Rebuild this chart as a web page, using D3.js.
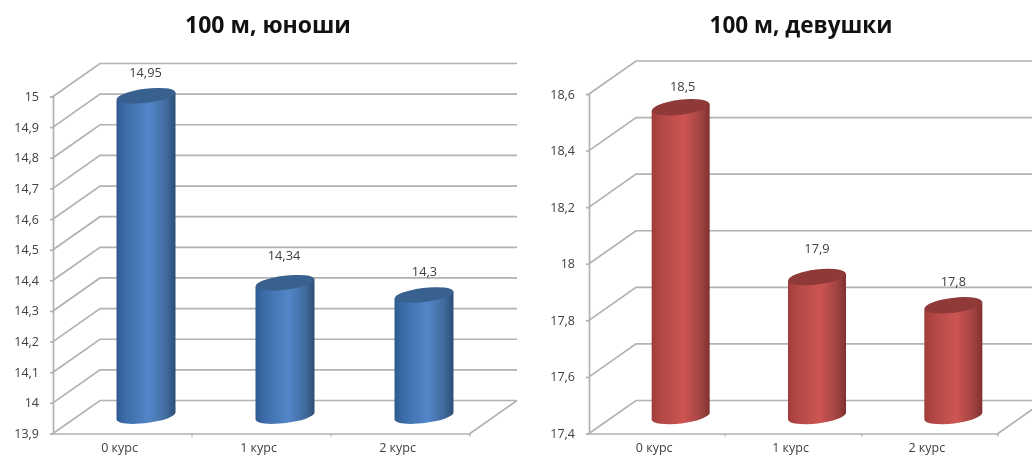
<!DOCTYPE html>
<html><head><meta charset="utf-8">
<script src="https://cdn.jsdelivr.net/npm/d3@7"></script>
<style>
html,body{margin:0;padding:0;background:#fff;overflow:hidden}
svg{display:block;filter:blur(0.4px)}
text{font-family:"Open Sans","Noto Sans",sans-serif;fill:#404040}
</style></head><body>
<svg id="c" width="1032" height="457"></svg>
<script>
const categories = ["0 курс","1 курс","2 курс"];
const boysValues = [14.95,14.34,14.3];
const girlsValues = [18.5,17.9,17.8];
const boysTicks = [13.9,14,14.1,14.2,14.3,14.4,14.5,14.6,14.7,14.8,14.9,15];
const girlsTicks = [17.4,17.6,17.8,18,18.2,18.4,18.6];
const boysTitle = "100 м, юноши";
const girlsTitle = "100 м, девушки";

const svg = d3.select("#c");
const fmt = v => String(v).replace(".", ",");
const defs = svg.append("defs");
function grad(id, stops){
  const g = defs.append("linearGradient").attr("id",id).attr("x1",0).attr("x2",1).attr("y1",0).attr("y2",0);
  stops.forEach(s=>g.append("stop").attr("offset",s[0]).attr("stop-color",s[1]));
}
grad("gb",[[0,"#2f5a90"],[0.15,"#3c6ca8"],[0.55,"#5386c9"],[0.85,"#3f6a9c"],[1,"#2d4d75"]]);
grad("gr",[[0,"#a03c3a"],[0.15,"#b24745"],[0.55,"#cd5552"],[0.85,"#a04341"],[1,"#80312f"]]);

function chart(o){
  const g = svg.append("g");
  const y = d3.scaleLinear().domain(o.domain).range([433.5,o.yTop]);
  const x = d3.scaleBand().domain(categories).range([o.x0,o.x1]);
  const dx=47, dy=33, grey="#b2b2b2";
  o.ticks.forEach(t=>{
    const yy=y(t);
    g.append("path").attr("fill","none").attr("stroke",grey).attr("stroke-width",1.7)
      .attr("d",`M${o.x0},${yy}L${o.x0+dx},${yy-dy}L${o.x1+dx},${yy-dy}`);
  });
  g.append("path").attr("fill","none").attr("stroke",grey).attr("stroke-width",1.7)
    .attr("d",`M${o.x1},${y(o.domain[0])}L${o.x1+dx},${y(o.domain[0])-dy}`);
  const ay = g.append("g").attr("transform",`translate(${o.x0},0)`)
    .call(d3.axisLeft(y).tickValues(o.ticks).tickFormat(fmt).tickSize(3).tickPadding(11));
  const ax = g.append("g").attr("transform",`translate(0,${y(o.domain[0])})`)
    .call(d3.axisBottom(x).tickSize(0).tickPadding(10));
  [ay,ax].forEach(a=>{a.selectAll("path,line").attr("stroke",grey).attr("stroke-width",1.7);
    a.select(".domain").attr("stroke",grey);
    a.selectAll("text").attr("font-size",12.5).attr("font-family",'"Open Sans"').attr("fill","#404040");});
  ax.selectAll(".tick text").attr("dx",-3);
  categories.forEach((c)=>{
    const xx=x(c)+x.bandwidth();
    g.append("line").attr("x1",xx).attr("x2",xx).attr("y1",y(o.domain[0])).attr("y2",y(o.domain[0])+3)
      .attr("stroke",grey).attr("stroke-width",1.4);
  });
  const rx=o.rx, ry=o.ry, rot=-7, sl=rx*Math.sin(rot*Math.PI/180);
  const botY=y(o.domain[0])-dy/2+o.bot;
  o.values.forEach((v,i)=>{
    const cx=x(categories[i])+x.bandwidth()/2+dx/2;
    const cy=y(v)-o.off;
    const cg=g.append("g");
    cg.append("path").attr("fill",`url(#${o.grad})`)
      .attr("d",`M${cx-rx},${cy-sl}L${cx+rx},${cy+sl}L${cx+rx},${botY+sl}A${rx},${ry} ${rot} 0 1 ${cx-rx},${botY-sl}Z`);
    cg.append("ellipse").attr("cx",cx).attr("cy",cy).attr("rx",rx).attr("ry",ry)
      .attr("transform",`rotate(${rot} ${cx} ${cy})`).attr("fill",o.top);
    g.append("text").attr("x",cx+o.labDx[i]).attr("y",cy+o.labDy[i]).attr("text-anchor","middle")
      .attr("font-size",12.8).text(fmt(v));
  });
  g.append("text").attr("x",o.tx).attr("y",33).attr("text-anchor","middle")
    .attr("font-size",o.tsize).attr("font-weight",700).attr("font-family",'"Noto Sans"').style("fill","#111").text(o.title);
}
chart({title:boysTitle,tx:268,tsize:23,values:boysValues,ticks:boysTicks,domain:[13.9,15],yTop:96.5,x0:53,x1:470,
  rx:29.5,ry:7,off:16,bot:-1,grad:"gb",top:"#38618f",labDx:[-0.5,-1,0.5],labDy:[-19,-23,-19]});
chart({title:girlsTitle,tx:801,tsize:22.5,values:girlsValues,ticks:girlsTicks,domain:[17.4,18.6],yTop:94,x0:589,x1:998,
  rx:29,ry:7.5,off:15,bot:-1,grad:"gr",top:"#8f3a38",labDx:[2,0,0],labDy:[-16,-24,-19]});
</script>
</body></html>
